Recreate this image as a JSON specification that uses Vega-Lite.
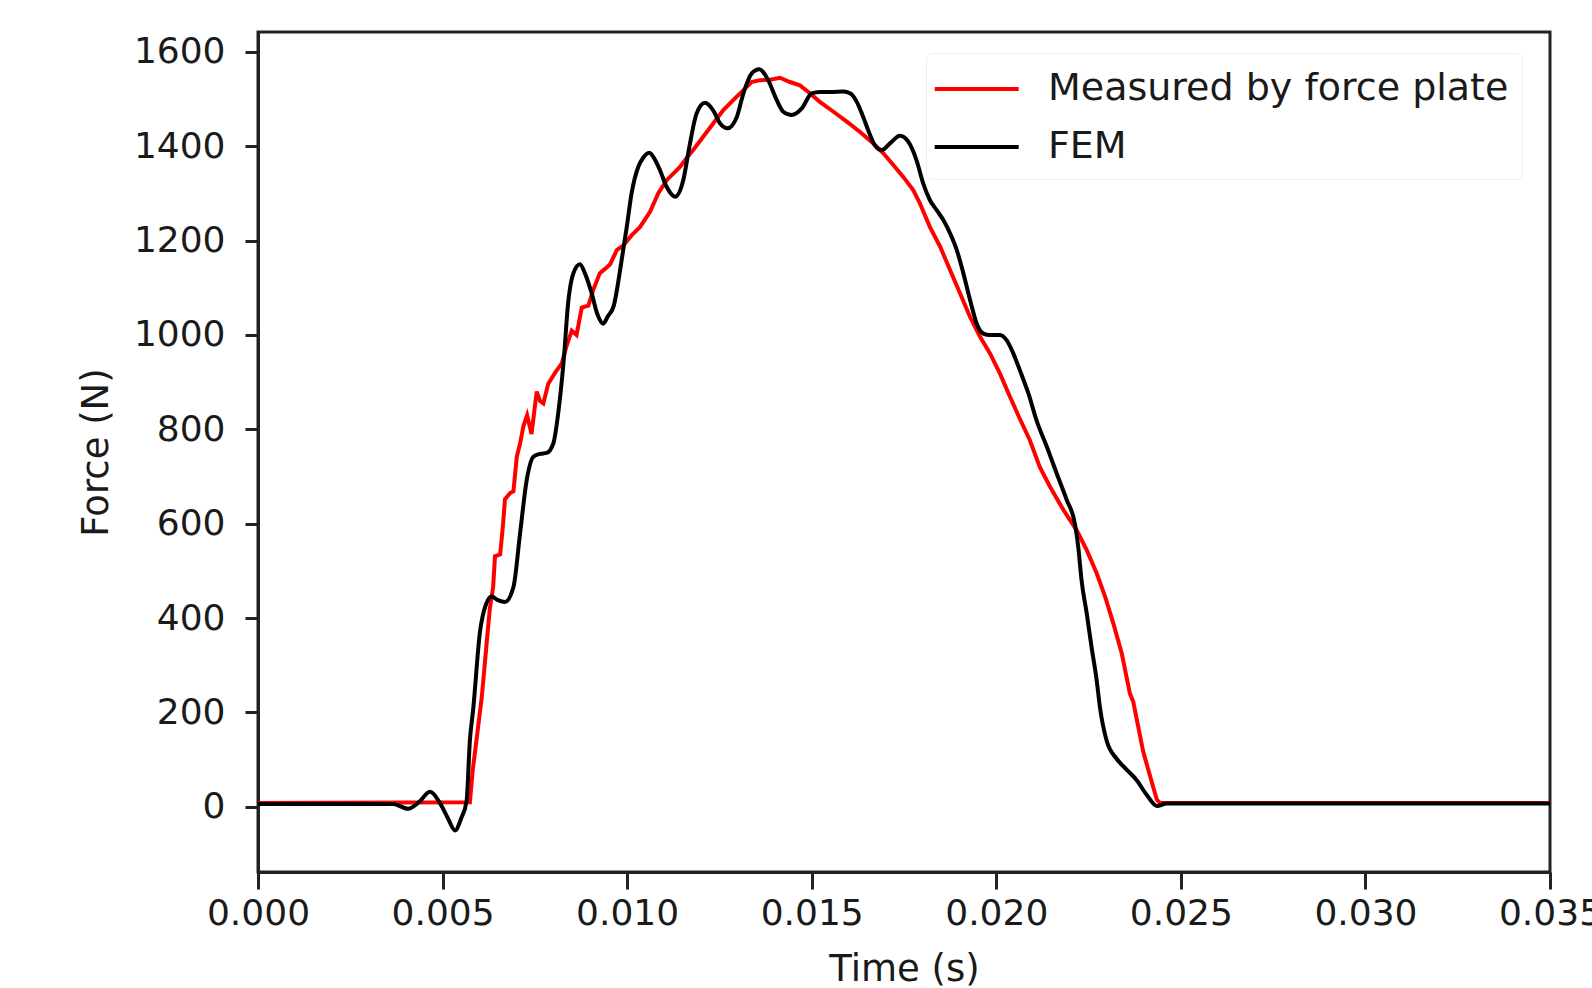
{
  "$schema": "https://vega.github.io/schema/vega-lite/v6.json",
  "width": 1292,
  "height": 840,
  "autosize": "none",
  "padding": {"left": 258, "top": 32, "right": 42, "bottom": 116},
  "background": "white",
  "config": {
    "view": {"stroke": "#222222", "strokeWidth": 3},
    "font": "DejaVu Sans"
  },
  "datasets": {
    "fem": [
      {"t": 0, "f": 6}, {"t": 0.00366, "f": 6}, {"t": 0.00406, "f": -4}, {"t": 0.00436, "f": 10},
      {"t": 0.00466, "f": 32}, {"t": 0.00493, "f": 8}, {"t": 0.00515, "f": -25}, {"t": 0.00534, "f": -50},
      {"t": 0.0055, "f": -25}, {"t": 0.00565, "f": 12}, {"t": 0.00574, "f": 141}, {"t": 0.00583, "f": 207},
      {"t": 0.00601, "f": 369}, {"t": 0.00618, "f": 430}, {"t": 0.00633, "f": 446}, {"t": 0.0065, "f": 438},
      {"t": 0.00669, "f": 434}, {"t": 0.00692, "f": 466}, {"t": 0.0071, "f": 580}, {"t": 0.00728, "f": 693},
      {"t": 0.00746, "f": 742}, {"t": 0.00764, "f": 748}, {"t": 0.00782, "f": 750}, {"t": 0.008, "f": 770},
      {"t": 0.00814, "f": 839}, {"t": 0.00827, "f": 936}, {"t": 0.00841, "f": 1074}, {"t": 0.00854, "f": 1130},
      {"t": 0.00872, "f": 1150}, {"t": 0.00886, "f": 1130}, {"t": 0.00904, "f": 1088}, {"t": 0.00919, "f": 1045},
      {"t": 0.00935, "f": 1024}, {"t": 0.00948, "f": 1040}, {"t": 0.00963, "f": 1060}, {"t": 0.00985, "f": 1158},
      {"t": 0.00999, "f": 1229}, {"t": 0.01012, "f": 1300}, {"t": 0.0103, "f": 1356}, {"t": 0.01043, "f": 1375},
      {"t": 0.0106, "f": 1386}, {"t": 0.01075, "f": 1372}, {"t": 0.01089, "f": 1349}, {"t": 0.01107, "f": 1314},
      {"t": 0.0113, "f": 1293}, {"t": 0.01152, "f": 1328}, {"t": 0.0117, "f": 1405}, {"t": 0.01188, "f": 1469},
      {"t": 0.01211, "f": 1492}, {"t": 0.01233, "f": 1476}, {"t": 0.01252, "f": 1448}, {"t": 0.01272, "f": 1438},
      {"t": 0.01297, "f": 1462}, {"t": 0.01315, "f": 1512}, {"t": 0.01337, "f": 1554}, {"t": 0.01358, "f": 1563},
      {"t": 0.01382, "f": 1540}, {"t": 0.01405, "f": 1498}, {"t": 0.01423, "f": 1473}, {"t": 0.01446, "f": 1466},
      {"t": 0.01473, "f": 1480}, {"t": 0.015, "f": 1512}, {"t": 0.01522, "f": 1515}, {"t": 0.01552, "f": 1515},
      {"t": 0.01586, "f": 1516}, {"t": 0.01604, "f": 1512}, {"t": 0.01622, "f": 1494}, {"t": 0.01636, "f": 1469},
      {"t": 0.01653, "f": 1434}, {"t": 0.01671, "f": 1402}, {"t": 0.0169, "f": 1392}, {"t": 0.01712, "f": 1406},
      {"t": 0.01739, "f": 1422}, {"t": 0.01762, "f": 1409}, {"t": 0.01784, "f": 1370}, {"t": 0.01802, "f": 1321},
      {"t": 0.0182, "f": 1286}, {"t": 0.01839, "f": 1264}, {"t": 0.01857, "f": 1243}, {"t": 0.01875, "f": 1215},
      {"t": 0.01893, "f": 1180}, {"t": 0.01911, "f": 1130}, {"t": 0.01929, "f": 1074}, {"t": 0.01947, "f": 1024},
      {"t": 0.01965, "f": 1003}, {"t": 0.01983, "f": 1000}, {"t": 0.0201, "f": 1000}, {"t": 0.02028, "f": 989},
      {"t": 0.02046, "f": 961}, {"t": 0.02064, "f": 925}, {"t": 0.02087, "f": 876}, {"t": 0.02109, "f": 819},
      {"t": 0.02137, "f": 763}, {"t": 0.02164, "f": 706}, {"t": 0.02191, "f": 650}, {"t": 0.02213, "f": 600},
      {"t": 0.02222, "f": 551}, {"t": 0.02231, "f": 480}, {"t": 0.02245, "f": 410}, {"t": 0.02258, "f": 339},
      {"t": 0.02272, "f": 268}, {"t": 0.02281, "f": 210}, {"t": 0.02299, "f": 140}, {"t": 0.02326, "f": 102},
      {"t": 0.02353, "f": 79}, {"t": 0.0238, "f": 57}, {"t": 0.02407, "f": 26}, {"t": 0.02435, "f": 2},
      {"t": 0.02462, "f": 7}, {"t": 0.035, "f": 7}
    ],
    "measured": [
      {"t": 0, "f": 8}, {"t": 0.00574, "f": 10}, {"t": 0.00582, "f": 80}, {"t": 0.00592, "f": 142},
      {"t": 0.00606, "f": 231}, {"t": 0.0062, "f": 352}, {"t": 0.00628, "f": 420}, {"t": 0.00637, "f": 466},
      {"t": 0.00642, "f": 531}, {"t": 0.00656, "f": 535}, {"t": 0.00664, "f": 600}, {"t": 0.00669, "f": 652},
      {"t": 0.00683, "f": 665}, {"t": 0.00692, "f": 669}, {"t": 0.00701, "f": 742}, {"t": 0.0071, "f": 770},
      {"t": 0.00719, "f": 807}, {"t": 0.00729, "f": 830}, {"t": 0.00741, "f": 790}, {"t": 0.00755, "f": 880},
      {"t": 0.00764, "f": 860}, {"t": 0.00773, "f": 855}, {"t": 0.00786, "f": 896}, {"t": 0.00805, "f": 920},
      {"t": 0.00823, "f": 940}, {"t": 0.00836, "f": 977}, {"t": 0.0085, "f": 1009}, {"t": 0.00863, "f": 1000},
      {"t": 0.00877, "f": 1058}, {"t": 0.00895, "f": 1062}, {"t": 0.00908, "f": 1095}, {"t": 0.00926, "f": 1131},
      {"t": 0.0094, "f": 1140}, {"t": 0.00954, "f": 1150}, {"t": 0.00972, "f": 1180}, {"t": 0.0099, "f": 1190},
      {"t": 0.01012, "f": 1211}, {"t": 0.01035, "f": 1229}, {"t": 0.01062, "f": 1261}, {"t": 0.01084, "f": 1300},
      {"t": 0.01107, "f": 1328}, {"t": 0.01125, "f": 1342}, {"t": 0.01143, "f": 1356}, {"t": 0.01166, "f": 1380},
      {"t": 0.01179, "f": 1392}, {"t": 0.01206, "f": 1420}, {"t": 0.01233, "f": 1448}, {"t": 0.0126, "f": 1476},
      {"t": 0.01288, "f": 1498}, {"t": 0.01315, "f": 1519}, {"t": 0.01337, "f": 1536}, {"t": 0.0136, "f": 1540},
      {"t": 0.01387, "f": 1541}, {"t": 0.01414, "f": 1545}, {"t": 0.01441, "f": 1536}, {"t": 0.01468, "f": 1529},
      {"t": 0.01491, "f": 1515}, {"t": 0.01522, "f": 1494}, {"t": 0.01559, "f": 1473}, {"t": 0.01595, "f": 1452},
      {"t": 0.01631, "f": 1430}, {"t": 0.01667, "f": 1406}, {"t": 0.01694, "f": 1385}, {"t": 0.01721, "f": 1360},
      {"t": 0.01748, "f": 1335}, {"t": 0.01775, "f": 1307}, {"t": 0.01793, "f": 1279}, {"t": 0.0182, "f": 1229},
      {"t": 0.01848, "f": 1187}, {"t": 0.01875, "f": 1137}, {"t": 0.01902, "f": 1088}, {"t": 0.01929, "f": 1038},
      {"t": 0.01956, "f": 996}, {"t": 0.01983, "f": 961}, {"t": 0.0201, "f": 918}, {"t": 0.02037, "f": 869},
      {"t": 0.02064, "f": 822}, {"t": 0.02091, "f": 777}, {"t": 0.02118, "f": 720}, {"t": 0.02146, "f": 678},
      {"t": 0.02182, "f": 629}, {"t": 0.02218, "f": 586}, {"t": 0.02245, "f": 544}, {"t": 0.02272, "f": 495},
      {"t": 0.02295, "f": 445}, {"t": 0.02317, "f": 389}, {"t": 0.0234, "f": 325}, {"t": 0.02362, "f": 240},
      {"t": 0.02371, "f": 223}, {"t": 0.02398, "f": 117}, {"t": 0.02425, "f": 42}, {"t": 0.02435, "f": 15},
      {"t": 0.02444, "f": 8}, {"t": 0.035, "f": 8}
    ]
  },
  "encoding": {
    "x": {
      "field": "t", "type": "quantitative",
      "scale": {"domain": [0, 0.035], "nice": false, "zero": false},
      "axis": {
        "title": "Time (s)", "values": [0, 0.005, 0.01, 0.015, 0.02, 0.025, 0.03, 0.035],
        "format": ".3f", "grid": false,
        "domainColor": "#222222", "domainWidth": 3,
        "tickColor": "#222222", "tickWidth": 3, "tickSize": 17,
        "labelFont": "DejaVu Sans", "labelFontSize": 36, "labelColor": "#1a1a1a", "labelPadding": 7,
        "labelFlush": false, "labelOverlap": false,
        "titleFont": "DejaVu Sans", "titleFontSize": 37, "titleFontWeight": "normal", "titleColor": "#1a1a1a",
        "titleX": 646, "titleY": 108, "titleBaseline": "alphabetic", "titleAlign": "center"
      }
    },
    "y": {
      "field": "f", "type": "quantitative",
      "scale": {"domain": [-138, 1642], "nice": false, "zero": false},
      "axis": {
        "title": "Force (N)", "values": [0, 200, 400, 600, 800, 1000, 1200, 1400, 1600],
        "format": "d", "grid": false,
        "domainColor": "#222222", "domainWidth": 3,
        "tickColor": "#222222", "tickWidth": 3, "tickSize": 13,
        "labelFont": "DejaVu Sans", "labelFontSize": 36, "labelColor": "#1a1a1a", "labelPadding": 20,
        "labelFlush": false, "labelOverlap": false,
        "titleFont": "DejaVu Sans", "titleFontSize": 37, "titleFontWeight": "normal", "titleColor": "#1a1a1a",
        "titleAngle": 270, "titleX": -162, "titleY": 420, "titleBaseline": "middle", "titleAlign": "center"
      }
    }
  },
  "layer": [
    {
      "data": {"name": "measured"},
      "mark": {"type": "line", "strokeWidth": 4, "interpolate": "linear"},
      "encoding": {
        "color": {
          "datum": "Measured by force plate", "type": "nominal",
          "scale": {"domain": ["Measured by force plate", "FEM"], "range": ["#ff0000", "#000000"]},
          "legend": {
            "title": null, "orient": "none", "legendX": 668, "legendY": 21,
            "symbolType": "M-1.3,0H2.7", "symbolSize": 1764, "symbolStrokeWidth": 4,
            "labelFont": "DejaVu Sans", "labelFontSize": 38, "labelColor": "#1a1a1a", "labelOffset": 63,
            "rowPadding": 16, "padding": 13, "strokeColor": "#eeeeee", "fillColor": "white",
            "cornerRadius": 6, "labelLimit": 800
          }
        }
      }
    },
    {
      "data": {"name": "fem"},
      "mark": {"type": "line", "strokeWidth": 4, "interpolate": "monotone"},
      "encoding": {
        "color": {"datum": "FEM", "type": "nominal"}
      }
    }
  ]
}
